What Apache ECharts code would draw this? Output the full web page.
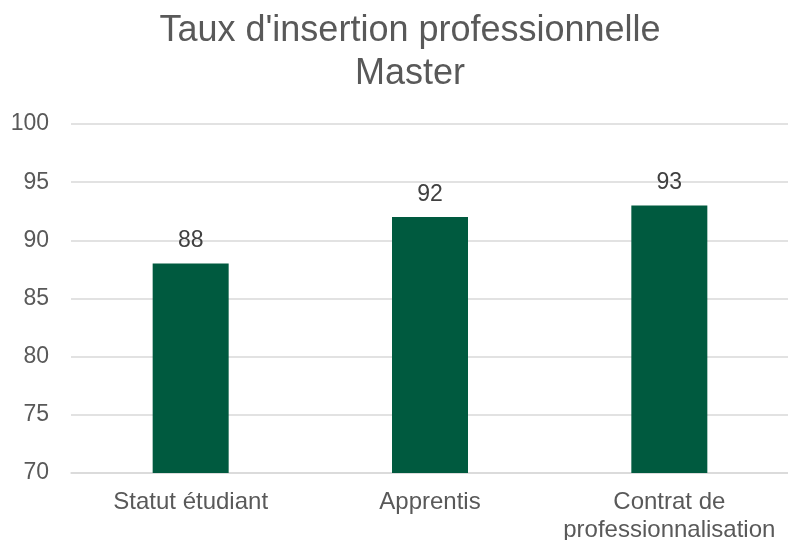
<!DOCTYPE html>
<html><head><meta charset="utf-8">
<script src="https://cdn.jsdelivr.net/npm/echarts@6/dist/echarts.min.js"></script>
<style>html,body{margin:0;padding:0;background:#fff}#c{width:788px;height:540px}</style>
</head><body><div id="c"></div>
<script>
const categories = ['Statut étudiant', 'Apprentis', 'Contrat de\nprofessionnalisation'];
const values = [88, 92, 93];
const titleText = "Taux d'insertion professionnelle\nMaster";

const chart = echarts.init(document.getElementById('c'));
chart.setOption({
  animation: false,
  backgroundColor: '#fff',
  title: {
    text: titleText,
    left: 405, top: 5, textAlign: 'center',
    textStyle: {fontFamily: 'Liberation Sans', fontSize: 36, fontWeight: 'normal', color: '#595959', lineHeight: 43}
  },
  grid: {left: 71, right: -1, top: 124, bottom: 67, containLabel: false, outerBoundsMode: 'none'},
  xAxis: {
    type: 'category', data: categories,
    axisLine: {lineStyle: {color: '#D9D9D9', width: 1.5}},
    axisTick: {show: false},
    axisLabel: {interval: 0, hideOverlap: false, fontFamily: 'Liberation Sans', fontSize: 24, color: '#595959', margin: 15, lineHeight: 28}
  },
  yAxis: {
    type: 'value', min: 70, max: 100, interval: 5,
    axisLine: {show: false}, axisTick: {show: false},
    splitLine: {lineStyle: {color: '#D9D9D9', width: 1.5}},
    axisLabel: {fontFamily: 'Liberation Sans', fontSize: 23, color: '#595959', margin: 22}
  },
  series: [{
    type: 'bar', data: values, barWidth: 76,
    itemStyle: {color: '#005A3F'},
    label: {show: true, position: 'top', distance: 11, fontFamily: 'Liberation Sans', fontSize: 23, color: '#404040'}
  }]
});
</script></body></html>
